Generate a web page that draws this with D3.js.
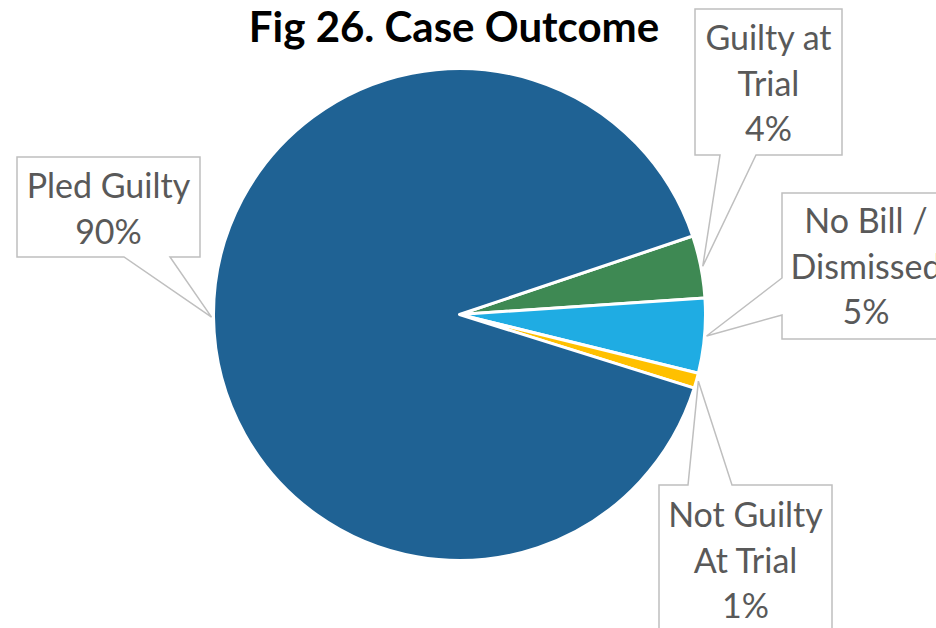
<!DOCTYPE html>
<html>
<head>
<meta charset="utf-8">
<script src="https://cdn.jsdelivr.net/npm/d3@7"></script>
<style>
  body { margin: 0; background: #fff; }
  svg { display: block; }
</style>
</head>
<body>
<div id="chart"></div>
<script>
// Data
const categories = ["Guilty at Trial", "No Bill / Dismissed", "Not Guilty At Trial", "Pled Guilty"];
const shares = [4.1, 4.9, 1.0, 90.0];
const pctLabels = ["4%", "5%", "1%", "90%"];
const labelLines = [["Guilty at", "Trial"], ["No Bill /", "Dismissed"], ["Not Guilty", "At Trial"], ["Pled Guilty"]];
const colors = ["#3E8953", "#1FACE3", "#FFC000", "#1F6294"];

const width = 936, height = 628;
const cx = 459.5, cy = 314.5, radius = 246;

const svg = d3.select("#chart").append("svg")
    .attr("width", width)
    .attr("height", height);

// Title
svg.append("text")
    .attr("x", 454)
    .attr("y", 42)
    .attr("text-anchor", "middle")
    .style("font-family", "Lato, 'Open Sans', sans-serif")
    .style("font-weight", "bold")
    .style("font-size", "42px")
    .attr("fill", "#000")
    .text("Fig 26. Case Outcome");

// Pie
const pie = d3.pie()
    .sort(null)
    .value(d => d)
    .startAngle(71.4 * Math.PI / 180)
    .endAngle(71.4 * Math.PI / 180 + 2 * Math.PI);

const arc = d3.arc().innerRadius(0).outerRadius(radius);
const arcs = pie(shares);

const g = svg.append("g").attr("transform", `translate(${cx},${cy})`);

g.selectAll("path")
    .data(arcs)
    .enter()
    .append("path")
    .attr("d", arc)
    .attr("fill", (d, i) => colors[i])
    .attr("stroke", "#fff")
    .attr("stroke-width", 3)
    .attr("stroke-linejoin", "round");

// Callout boxes: box rect and where the pointer leaves the box
const callouts = [
    { x0: 695, y0: 9, x1: 842, y1: 155, side: "bottom", a: 720, b: 756, baseline: 50 },
    { x0: 782, y0: 193, x1: 950, y1: 339, side: "left", a: 278, b: 315, baseline: 233 },
    { x0: 659, y0: 485, x1: 832, y1: 660, side: "top", a: 688, b: 732, baseline: 527 },
    { x0: 17, y0: 157, x1: 200, y1: 257, side: "bottom", a: 124, b: 170, baseline: 198 }
];

function calloutPath(c, tip) {
    const p = d3.path();
    if (c.side === "bottom") {
        p.moveTo(c.x0, c.y0);
        p.lineTo(c.x1, c.y0);
        p.lineTo(c.x1, c.y1);
        p.lineTo(c.b, c.y1);
        p.lineTo(tip[0], tip[1]);
        p.lineTo(c.a, c.y1);
        p.lineTo(c.x0, c.y1);
    } else if (c.side === "left") {
        p.moveTo(c.x0, c.y0);
        p.lineTo(c.x1, c.y0);
        p.lineTo(c.x1, c.y1);
        p.lineTo(c.x0, c.y1);
        p.lineTo(c.x0, c.b);
        p.lineTo(tip[0], tip[1]);
        p.lineTo(c.x0, c.a);
    } else {
        p.moveTo(c.x0, c.y1);
        p.lineTo(c.x0, c.y0);
        p.lineTo(c.a, c.y0);
        p.lineTo(tip[0], tip[1]);
        p.lineTo(c.b, c.y0);
        p.lineTo(c.x1, c.y0);
        p.lineTo(c.x1, c.y1);
    }
    p.closePath();
    return p.toString();
}

const lineGap = 45.5;

arcs.forEach((d, i) => {
    const c = callouts[i];
    const mid = (d.startAngle + d.endAngle) / 2;
    const tip = [cx + (radius + 2) * Math.sin(mid), cy - (radius + 2) * Math.cos(mid)];

    svg.append("path")
        .attr("d", calloutPath(c, tip))
        .attr("fill", "#fff")
        .attr("stroke", "#BFBFBF")
        .attr("stroke-width", 1.5);

    const lines = labelLines[i].concat([pctLabels[i]]);
    const t = svg.append("text")
        .attr("text-anchor", "middle")
        .style("font-family", "Lato, 'Open Sans', sans-serif")
        .style("font-size", "34px")
        .attr("fill", "#595959");
    lines.forEach((s, k) => {
        t.append("tspan")
            .attr("x", (c.x0 + c.x1) / 2)
            .attr("y", c.baseline + k * lineGap)
            .text(s);
    });
});
</script>
</body>
</html>
